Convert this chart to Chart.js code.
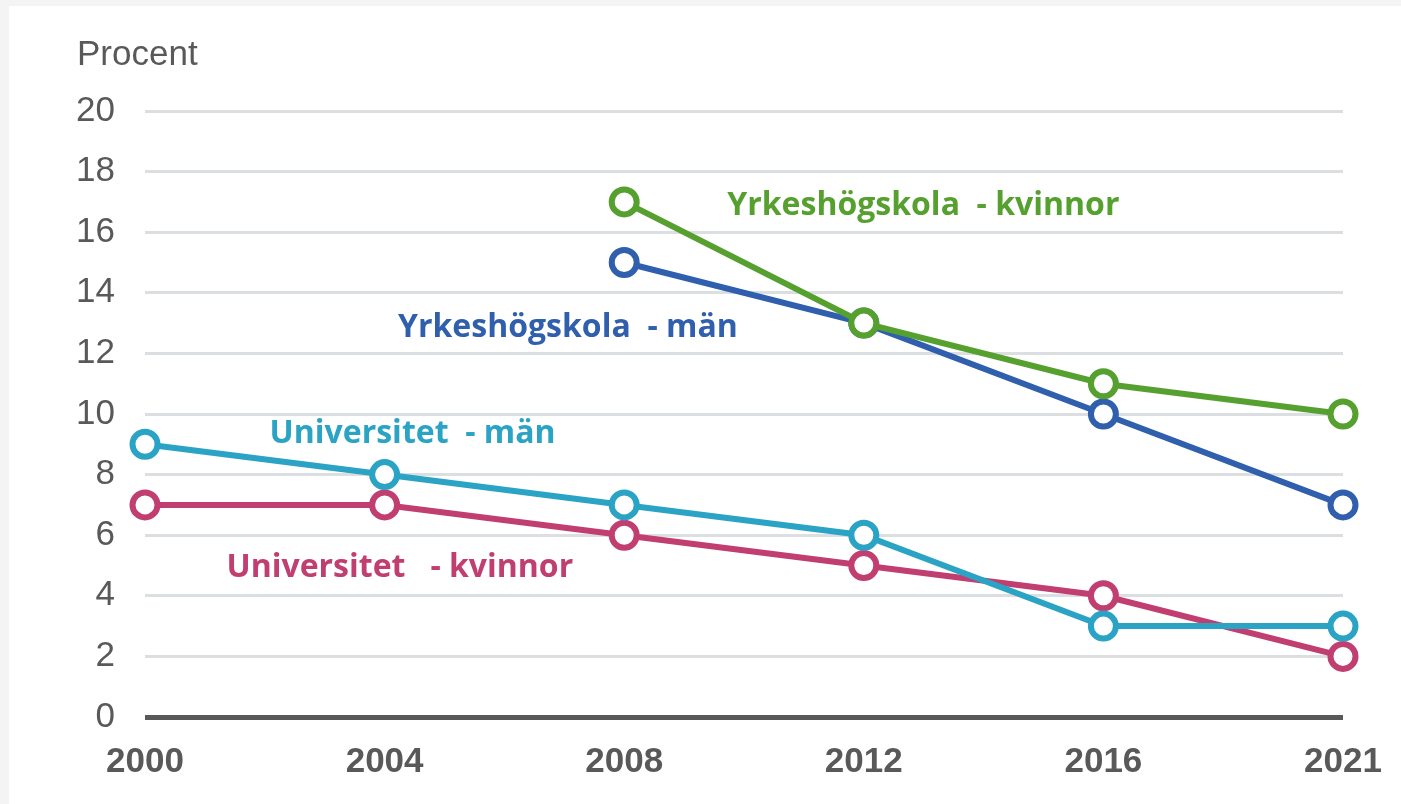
<!DOCTYPE html>
<html>
<head>
<meta charset="utf-8">
<script src="https://cdn.jsdelivr.net/npm/chart.js@4.4.1/dist/chart.umd.min.js"></script>
<style>
  html, body { margin: 0; padding: 0; background: #f4f4f4; }
  #wrap { position: absolute; left: 9px; top: 6px; width: 1392px; height: 798px; background: #fff; }
</style>
</head>
<body>
<div id="wrap"><canvas id="chart" width="1392" height="798"></canvas></div>
<script>
const years = ['2000', '2004', '2008', '2012', '2016', '2021'];
const yhKvinnor = [null, null, 17, 13, 11, 10];
const yhMan = [null, null, 15, 13, 10, 7];
const uniMan = [9, 8, 7, 6, 3, 3];
const uniKvinnor = [7, 7, 6, 5, 4, 2];

// labels placed in data units (baseline): [text, x index, y value, colour]
const seriesLabels = [
  ['Yrkeshögskola  - kvinnor', 2.43, 16.57, '#56a030'],
  ['Yrkeshögskola  - män', 1.056, 12.54, '#2f5fad'],
  ['Universitet  - män', 0.52, 9.04, '#2aa3c5'],
  ['Universitet   - kvinnor', 0.34, 4.62, '#c03e70']
];

const labelPlugin = {
  id: 'labels',
  afterDatasetsDraw(chart) {
    const c = chart.ctx;
    const xs = chart.scales.x, ys = chart.scales.y;
    c.save();
    c.font = 'bold 32px "Open Sans"';
    c.textBaseline = 'alphabetic';
    c.textAlign = 'left';
    seriesLabels.forEach(l => {
      c.fillStyle = l[3];
      c.fillText(l[0], xs.getPixelForValue(l[1]), ys.getPixelForValue(l[2]));
    });
    c.font = '35px "Liberation Sans"';
    c.fillStyle = '#595959';
    c.fillText('Procent', 68, 59);
    c.restore();
  }
};

function line(data, color) {
  return {
    data,
    borderColor: color,
    backgroundColor: '#fff',
    borderWidth: 6,
    pointRadius: 12.5,
    pointBorderWidth: 6,
    pointBackgroundColor: '#fff',
    pointBorderColor: color,
    tension: 0
  };
}

new Chart(document.getElementById('chart'), {
  type: 'line',
  data: {
    labels: years,
    datasets: [
      line(yhKvinnor, '#56a030'),
      line(yhMan, '#2f5fad'),
      line(uniMan, '#2aa3c5'),
      line(uniKvinnor, '#c03e70')
    ]
  },
  options: {
    responsive: false,
    animation: false,
    layout: { padding: { left: 0, top: 105, right: 58, bottom: 0 } },
    plugins: { legend: { display: false }, tooltip: { enabled: false } },
    scales: {
      x: {
        grid: { display: false },
        border: { display: false },
        ticks: { color: '#595959', font: { family: 'Liberation Sans', size: 35, weight: 'bold' }, padding: 16, maxRotation: 0, autoSkip: false },
        afterFit(s) { s.height = 87; }
      },
      y: {
        min: 0, max: 20,
        border: { display: false },
        grid: {
          drawTicks: false,
          color: ctx => ctx.tick.value === 0 ? '#595959' : '#dcdfe2',
          lineWidth: ctx => ctx.tick.value === 0 ? 5 : 3
        },
        ticks: { stepSize: 2, color: '#595959', font: { family: 'Liberation Sans', size: 35 }, padding: 30 },
        afterFit(s) { s.width = 136; }
      }
    }
  },
  plugins: [labelPlugin]
});
</script>
</body>
</html>
